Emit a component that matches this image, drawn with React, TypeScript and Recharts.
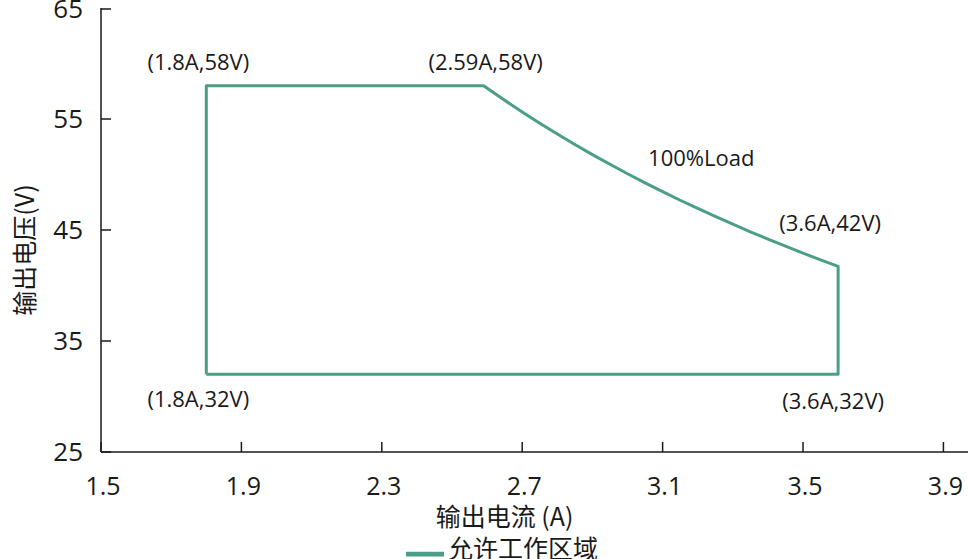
import { LineChart, Line, XAxis, YAxis, Legend, ReferenceDot } from "recharts";

// 输出电流 (A) / 输出电压 (V) along the outline of the allowed area
const CURRENT = [
  1.8, 1.8, 2.59, 2.65, 2.7, 2.75, 2.8, 2.85, 2.9, 2.95, 3.0, 3.05, 3.1, 3.15, 3.2, 3.25, 3.3, 3.35, 3.4,
  3.45, 3.5, 3.55, 3.6, 3.6, 1.8,
];
const VOLTAGE = [
  32, 58, 58, 56.68, 55.63, 54.62, 53.64, 52.7, 51.79, 50.92, 50.07, 49.25, 48.45, 47.68, 46.94, 46.22,
  45.52, 44.84, 44.18, 43.54, 42.91, 42.31, 41.72, 32, 32,
];

const X_TICKS = [1.5, 1.9, 2.3, 2.7, 3.1, 3.5, 3.9];
const Y_TICKS = [25, 35, 45, 55, 65];

const CORNER_X = [1.8, 2.59, 3.6, 1.8, 3.6];
const CORNER_Y = [58, 58, 41.7, 32, 32];
const CORNER_TEXT = ["(1.8A,58V)", "(2.59A,58V)", "(3.6A,42V)", "(1.8A,32V)", "(3.6A,32V)"];
const CORNER_DX = [-8, 2, -8, -8, -5];
const CORNER_DY = [-24, -24, -44, 25, 27];

const LOAD_X = 3.21;
const LOAD_Y = 51.5;
const LOAD_TEXT = "100%Load";

const SERIES_NAME = "允许工作区域";
const GREEN = "#4b9e88";
const INK = "#1a1a1a";
const FONT = "'Open Sans', 'Noto Sans', sans-serif";
const CJK = "'Noto Sans CJK SC', 'Open Sans', sans-serif";

const data = CURRENT.map((i, k) => ({ i, v: VOLTAGE[k] }));

const Y_MARGIN = 18;
const X_MARGIN = 34;

function YTick({ x, y, payload }: any) {
  const ax = x + Y_MARGIN;
  return (
    <g>
      <line x1={ax} x2={ax + 10} y1={y} y2={y} stroke={INK} strokeWidth={1.5} />
      <text x={x} y={y} dy="0.36em" textAnchor="end" fontSize={26} fontFamily={FONT} fill={INK}>
        {payload.value}
      </text>
    </g>
  );
}

function XTick({ x, y, payload }: any) {
  const ay = y - X_MARGIN;
  return (
    <g>
      <line x1={x} x2={x} y1={ay} y2={ay - 10} stroke={INK} strokeWidth={1.5} />
      <text x={x + 2} y={y} dy="0.36em" textAnchor="middle" fontSize={25} fontFamily={FONT} fill={INK}>
        {payload.value}
      </text>
    </g>
  );
}

function dotCenter(props: any) {
  const vb = props.viewBox ?? {};
  return { x: (vb.x ?? 0) + (vb.width ?? 0) / 2, y: (vb.y ?? 0) + (vb.height ?? 0) / 2 };
}

function cornerLabel(k: number) {
  return (props: any) => {
    const c = dotCenter(props);
    return (
      <text x={c.x + CORNER_DX[k]} y={c.y + CORNER_DY[k]} dy="0.36em" textAnchor="middle" fontSize={22} fontFamily={FONT} fill={INK}>
        {CORNER_TEXT[k]}
      </text>
    );
  };
}

function loadLabel(props: any) {
  const c = dotCenter(props);
  return (
    <text x={c.x} y={c.y} dy="0.36em" textAnchor="middle" fontSize={22} fontFamily={FONT} fill={INK}>
      {LOAD_TEXT}
    </text>
  );
}

export default function App() {
  return (
    <div style={{ position: "absolute", left: 0, top: 0, width: 968, height: 559, background: "#fff" }}>
      <LineChart width={968} height={559} data={data} margin={{ top: 8, right: 0, bottom: 0, left: 46 }}>
        <XAxis
          dataKey="i"
          type="number"
          domain={[1.5, 3.97]}
          ticks={X_TICKS}
          allowDataOverflow
          height={77}
          tickSize={0}
          tickMargin={X_MARGIN}
          tick={<XTick />}
          axisLine={{ stroke: INK, strokeWidth: 1.5 }}
          label={{ value: "输出电流 (A)", position: "center", dx: -30, dy: 27, fontSize: 25, fontFamily: CJK, fill: INK }}
        />
        <YAxis
          type="number"
          domain={[25, 65]}
          ticks={Y_TICKS}
          width={55}
          tickSize={0}
          tickMargin={Y_MARGIN}
          tick={<YTick />}
          axisLine={{ stroke: INK, strokeWidth: 1.5 }}
          label={{ value: "输出电压(V)", angle: -90, position: "center", dx: -48, dy: 20, fontSize: 25, fontFamily: CJK, fill: INK }}
        />
        <Legend
          verticalAlign="bottom"
          height={30}
          iconType="plainline"
          iconSize={38}
          formatter={(v) => <span style={{ color: INK, fontSize: 25, fontFamily: CJK }}>{v}</span>}
        />
        <Line
          dataKey="v"
          name={SERIES_NAME}
          type="linear"
          stroke={GREEN}
          strokeWidth={3}
          strokeLinejoin="round"
          dot={false}
          activeDot={false}
          isAnimationActive={false}
        />
        {CORNER_X.map((cx, k) => (
          <ReferenceDot key={k} x={cx} y={CORNER_Y[k]} r={0} stroke="none" fill="none" label={cornerLabel(k)} />
        ))}
        <ReferenceDot x={LOAD_X} y={LOAD_Y} r={0} stroke="none" fill="none" label={loadLabel} />
      </LineChart>
    </div>
  );
}
